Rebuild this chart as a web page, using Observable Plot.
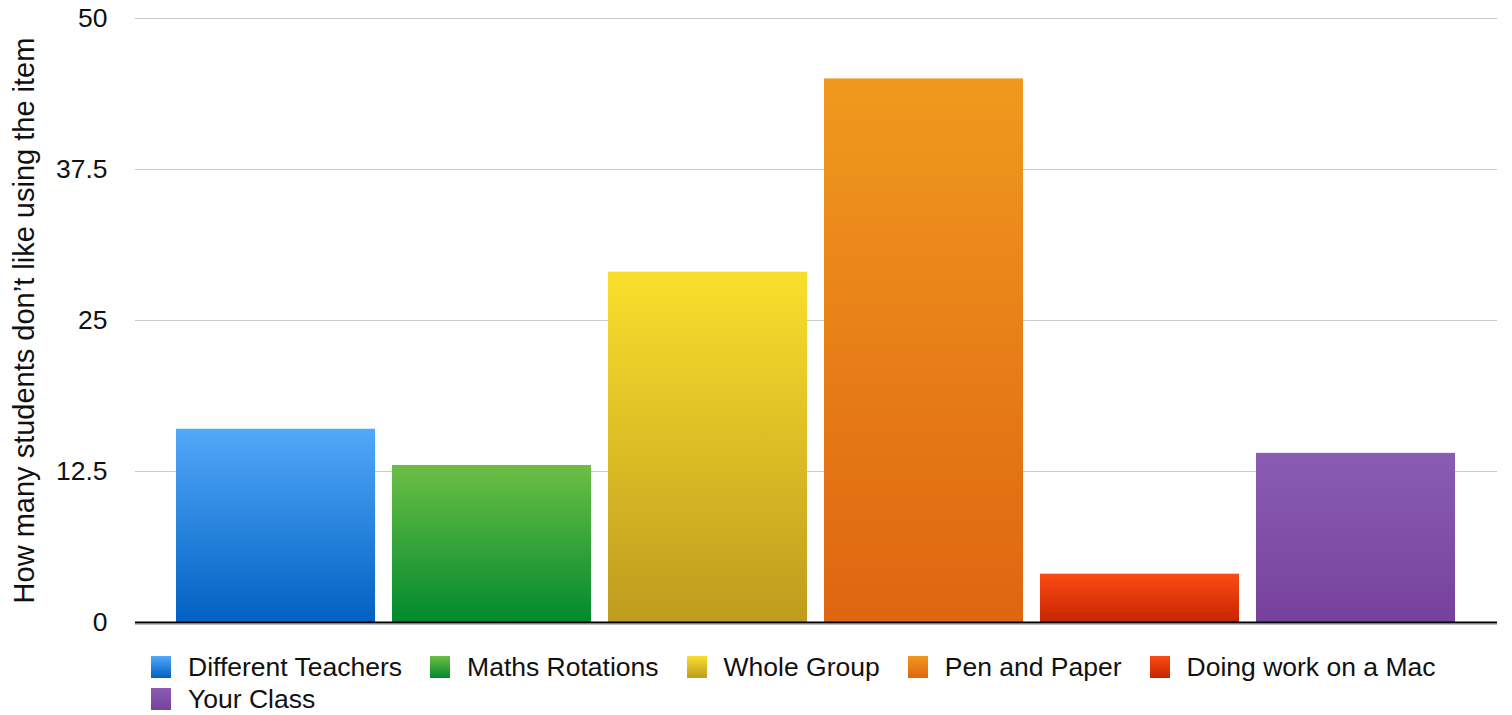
<!DOCTYPE html>
<html>
<head>
<meta charset="utf-8">
<script src="https://cdn.jsdelivr.net/npm/d3@7"></script>
<script src="https://cdn.jsdelivr.net/npm/@observablehq/plot@0.6"></script>
<style>
  html, body { margin: 0; padding: 0; background: #fff; }
  body { width: 1512px; height: 715px; overflow: hidden; font-family: "Liberation Sans", Arial, Helvetica, sans-serif; }
  #chart svg { display: block; }
  #legend { position: absolute; left: 151px; top: 651px; width: 1330px; display: flex; flex-wrap: wrap; font-size: 26.5px; color: #111; }
  .item { display: flex; align-items: center; height: 32px; margin-right: 28px; }
  .sw { width: 20px; height: 22px; margin-right: 17px; }
</style>
</head>
<body>
<div id="chart"></div>
<div id="legend"></div>
<script>
const categories = ["Different Teachers", "Maths Rotations", "Whole Group", "Pen and Paper", "Doing work on a Mac", "Your Class"];
const values = [16, 13, 29, 45, 4, 14];
const topColors = ["#52a9fa", "#6dbe45", "#f9df2c", "#f0991e", "#fb4c14", "#8b5cb4"];
const bottomColors = ["#0260c2", "#008a2f", "#bf9b1e", "#df6511", "#c82400", "#76419c"];
const yTicks = [0, 12.5, 25, 37.5, 50];
const yLabel = "How many students don\u2019t like using the item";

const data = categories.map((c, i) => ({category: c, value: values[i], idx: i}));

function gradientDefs() {
  const ns = "http://www.w3.org/2000/svg";
  const defs = document.createElementNS(ns, "defs");
  categories.forEach((c, i) => {
    const g = document.createElementNS(ns, "linearGradient");
    g.setAttribute("id", "grad" + i);
    g.setAttribute("x1", "0"); g.setAttribute("y1", "0");
    g.setAttribute("x2", "0"); g.setAttribute("y2", "1");
    const s1 = document.createElementNS(ns, "stop");
    s1.setAttribute("offset", "0"); s1.setAttribute("stop-color", topColors[i]);
    const s2 = document.createElementNS(ns, "stop");
    s2.setAttribute("offset", "1"); s2.setAttribute("stop-color", bottomColors[i]);
    g.appendChild(s1); g.appendChild(s2);
    defs.appendChild(g);
  });
  return defs;
}

const barMarks = data.map(d => Plot.barY([d], {x: "category", y: "value", fill: `url(#grad${d.idx})`}));

const chart = Plot.plot({
  width: 1512,
  height: 640,
  marginTop: 18,
  marginBottom: 18,
  marginLeft: 135,
  marginRight: 15,
  style: {fontFamily: "'Liberation Sans', Arial, Helvetica, sans-serif", fontSize: "26.5px", color: "#111", background: "#fff"},
  x: {domain: categories, axis: null, insetLeft: 28.5, insetRight: 29.5, paddingInner: 0.078, paddingOuter: 0.05},
  y: {domain: [0, 50], ticks: yTicks, label: null},
  marks: [
    gradientDefs,
    Plot.ruleY(yTicks.filter(t => t > 0), {stroke: "#c8c8c8", strokeWidth: 1}),
    Plot.axisY({ticks: yTicks, tickSize: 0, tickPadding: 28, tickFormat: d => String(d), fontSize: 26.5, label: null}),
    ...barMarks,
    Plot.ruleY([0], {stroke: "#bbbbbb", strokeWidth: 1, dy: 2}),
    Plot.ruleY([0], {stroke: "#000", strokeWidth: 2.2}),
    Plot.text([yLabel], {frameAnchor: "left", rotate: -90, dx: -111, textAnchor: "middle", lineAnchor: "middle", fontSize: 29, fill: "#111"})
  ]
});
document.getElementById("chart").appendChild(chart);

const legend = document.getElementById("legend");
categories.forEach((c, i) => {
  const item = document.createElement("div");
  item.className = "item";
  const sw = document.createElement("div");
  sw.className = "sw";
  sw.style.background = `linear-gradient(${topColors[i]}, ${bottomColors[i]})`;
  const t = document.createElement("span");
  t.textContent = c;
  item.appendChild(sw); item.appendChild(t);
  legend.appendChild(item);
});
</script>
</body>
</html>
